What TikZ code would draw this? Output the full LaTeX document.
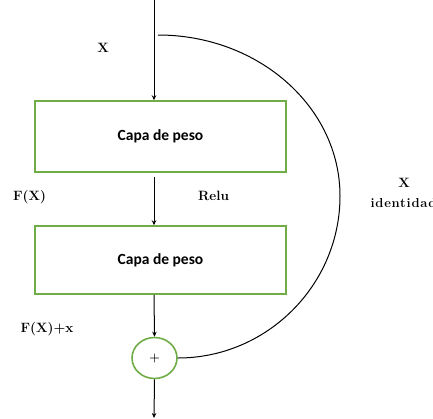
\documentclass[tikz,border=0pt]{standalone}
\usepackage{fontspec}
\newfontfamily\capafont{Carlito}
\newfontfamily\espfont[LetterSpace=6]{Latin Modern Roman}
\usetikzlibrary{arrows.meta,shapes.geometric}
\definecolor{verde}{RGB}{112,173,71}
\tikzset{
    capa/.style={draw=verde,line width=1.5pt,minimum width=251pt,
        font=\capafont\bfseries\fontsize{15.5}{18}\selectfont},
    suma/.style={draw=verde,line width=1.6pt,ellipse,inner sep=0pt,
        minimum width=45pt,minimum height=41pt,font=\bfseries\fontsize{12}{14}\selectfont},
    flecha/.style={-{Stealth[length=5pt,width=4.5pt]},line width=1pt},
    etiqueta/.style={anchor=base,font=\bfseries\fontsize{13.5}{16}\selectfont}
}
\begin{document}
\begin{tikzpicture}[x=1pt,y=-1pt]
    \useasboundingbox (0,0) rectangle (433,418);
    %% Capas
    \node[capa,minimum height=71pt] (capa1) at (160.5,136.5) {Capa de peso};
    \node[capa,minimum height=68pt] (capa2) at (160.5,260) {Capa de peso};
    \node[suma] (suma) at (154.5,358) {+};
    \coordinate (entrada) at (154,0);
    \coordinate (salida) at (154,418);
    \coordinate (rama) at (158,35);
    %% Flechas
    \draw[flecha] (entrada) -- (entrada |- capa1.north);
    \draw[flecha] ([yshift=-4pt]entrada |- capa1.south) -- (entrada |- capa2.north);
    \draw[flecha] (entrada |- capa2.south) -- (suma.north);
    \draw[flecha] (suma.south) -- (salida);
    %% Identidad
    \draw[line width=1pt] (rama) .. controls (258.5,35) and (340,107) .. (340,196)
        .. controls (340,285) and (267,358) .. (suma.east);
    %% Etiquetas
    \node[etiqueta] (x) at (103,52) {X};
    \node[etiqueta] (fx) at (29.5,200.5) {F(X)};
    \node[etiqueta] (relu) at (213.5,200.5) {Relu};
    \node[etiqueta] (fxx) at (47,332) {F(X)+x};
    \node[etiqueta] (xid) at (404,187) {X};
    \node[etiqueta,anchor=base west,font=\espfont\bfseries\fontsize{13}{16}\selectfont] (id) at (367,207.5) {identidad};
\end{tikzpicture}
\end{document}
